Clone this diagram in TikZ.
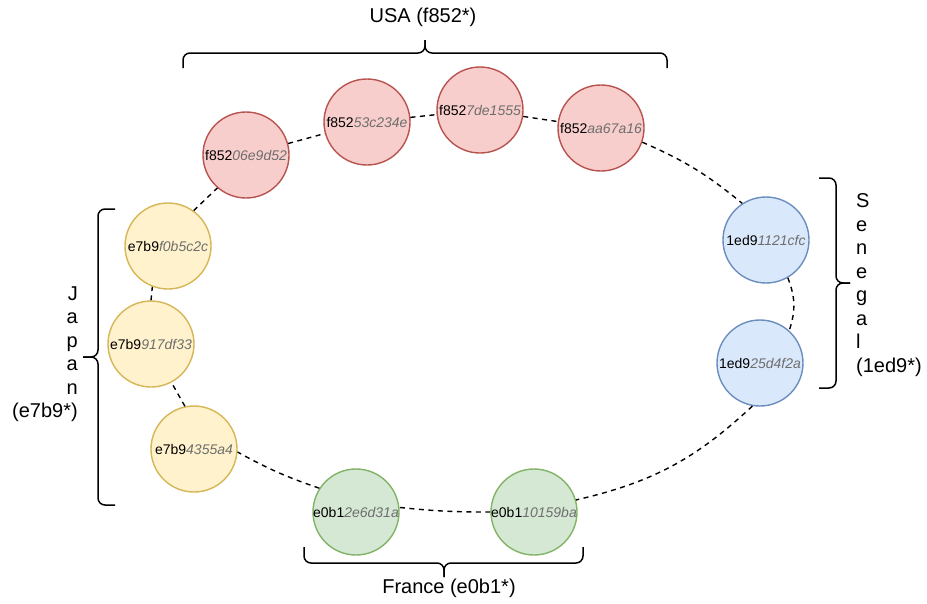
\documentclass[tikz,border=0pt]{standalone}
\usepackage{fontspec}
\setmainfont{Liberation Sans}

\definecolor{usafill}{HTML}{F8CECC}
\definecolor{usaline}{HTML}{B85450}
\definecolor{senfill}{HTML}{DAE8FC}
\definecolor{senline}{HTML}{6C8EBF}
\definecolor{frafill}{HTML}{D5E8D4}
\definecolor{fraline}{HTML}{82B366}
\definecolor{japfill}{HTML}{FFF2CC}
\definecolor{japline}{HTML}{D6B656}
\definecolor{idgray}{HTML}{6E6E6E}

\newcommand{\peerid}[2]{#1{\color{idgray}\itshape #2}}

\tikzset{
	peer/.style={circle, draw, line width=1.4pt, minimum size=86pt, inner sep=0pt, font=\fontsize{14}{16}\selectfont},
	usa/.style={peer, draw=usaline, fill=usafill},
	sen/.style={peer, draw=senline, fill=senfill},
	fra/.style={peer, draw=fraline, fill=frafill},
	jap/.style={peer, draw=japline, fill=japfill},
	ring/.style={dash pattern=on 5pt off 4.5pt, line width=1.4pt},
	brace/.style={line width=1.5pt, rounded corners=7pt},
	region/.style={font=\fontsize{20}{23.5}\selectfont, inner sep=0pt},
}

\begin{document}
\begin{tikzpicture}[x=1pt, y=-1pt]
	\useasboundingbox (0,0) rectangle (927,603);

	% Pares
		% USA
			\node[usa] (u1) at (246,155) {\peerid{f852}{06e9d52}};
			\node[usa] (u2) at (367,122) {\peerid{f852}{53c234e}};
			\node[usa] (u3) at (480,110) {\peerid{f852}{7de1555}};
			\node[usa] (u4) at (601,128) {\peerid{f852}{aa67a16}};
		% Senegal
			\node[sen] (s1) at (766,240) {\peerid{1ed9}{1121cfc}};
			\node[sen] (s2) at (760,363) {\peerid{1ed9}{25d4f2a}};
		% France
			\node[fra] (f2) at (534,512) {\peerid{e0b1}{10159ba}};
			\node[fra] (f1) at (356,512) {\peerid{e0b1}{2e6d31a}};
		% Japan
			\node[jap] (j3) at (194,449) {\peerid{e7b9}{4355a4}};
			\node[jap] (j2) at (151,344) {\peerid{e7b9}{917df33}};
			\node[jap] (j1) at (168,246) {\peerid{e7b9}{f0b5c2c}};

	% Anillo
		\draw[ring] (u1) -- (u2);
		\draw[ring] (u2) -- (u3);
		\draw[ring] (u3) -- (u4);
		\draw[ring] (u4.-19) to[bend left=8] (s1.123);
		\draw[ring] (s1.-60) to[bend left=20] (s2.48);
		\draw[ring] (s2.-100) to[bend left=15] (f2.16);
		\draw[ring] (f2.180) to[bend left=3] (f1.6);
		\draw[ring] (f1.147) to[bend left=5] (j3.-4);
		\draw[ring] (j3.102) -- (j2.-62);
		\draw[ring] (j2.90) -- (j1.-111);
		\draw[ring] (j1.54) -- (u1.-131);

	% Llaves
		% USA
			\draw[brace] (183,68) |- (425,53) -- (425,40);
			\draw[brace] (667,68) |- (425,53) -- (425,40);
			\node[region] (usa) at (423,17) {USA (f852*)};
		% Senegal
			\draw[brace] (819,178) -| (836,283) -- (850,283);
			\draw[brace] (819,388) -| (836,283) -- (850,283);
			\node[region, align=left, anchor=west] (senegal) at (856,285) {S\\e\\n\\e\\g\\a\\l\\(1ed9*)};
		% France
			\draw[brace] (304,547) |- (444,563) -- (444,577);
			\draw[brace] (583,547) |- (444,563) -- (444,577);
			\node[region] (france) at (449,588) {France (e0b1*)};
		% Japan
			\draw[brace] (115,209) -| (98,357) -- (83,357);
			\draw[brace] (115,505) -| (98,357) -- (83,357);
			\node[region, align=right, anchor=east] (japan) at (78,354) {J\\a\\p\\a\\n\\(e7b9*)};
\end{tikzpicture}
\end{document}
